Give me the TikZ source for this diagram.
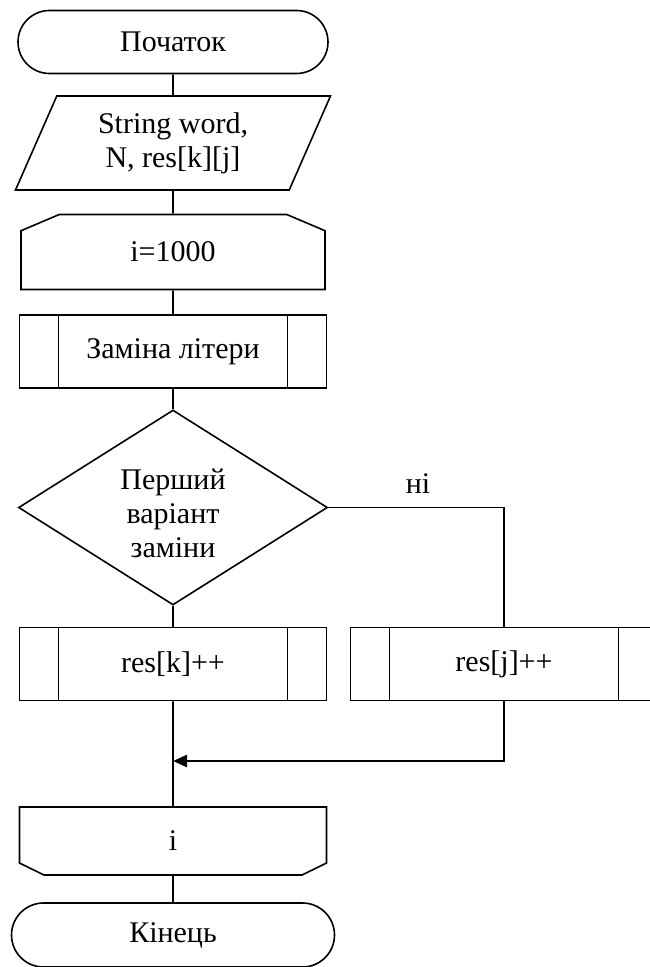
\documentclass[tikz,border=0pt]{standalone}
\usepackage{fontspec}
\setmainfont{Liberation Serif}
\usetikzlibrary{positioning, shapes.geometric, shapes.misc, arrows.meta}

\begin{document}
\begin{tikzpicture}[x=0.5pt, y=-0.5pt, font=\fontsize{15}{17}\selectfont,
      inner sep=0pt, line width=0.8pt,
      term/.style={rounded rectangle, draw, minimum width=155pt, minimum height=31.5pt},
      io/.style={trapezium, draw, trapezium left angle=56, trapezium right angle=124,
        trapezium stretches body, minimum width=157.5pt, minimum height=47pt, align=center},
      loopbeg/.style={chamfered rectangle, draw, chamfered rectangle corners={north west, north east},
        chamfered rectangle angle=67, chamfered rectangle xsep=15.5pt,
        minimum width=152pt, minimum height=37.5pt},
      loopfin/.style={chamfered rectangle, draw, chamfered rectangle corners={south west, south east},
        chamfered rectangle angle=64, chamfered rectangle xsep=13.5pt,
        minimum width=153.5pt, minimum height=34pt},
      proc/.style={rectangle, draw, minimum width=153.5pt, minimum height=36.5pt,
        path picture={\draw ([xshift=19.5pt]path picture bounding box.north west)
          -- ([xshift=19.5pt]path picture bounding box.south west)
          ([xshift=-19.5pt]path picture bounding box.north east)
          -- ([xshift=-19.5pt]path picture bounding box.south east);}},
      cond/.style={diamond, draw, aspect=1.6, minimum width=154.5pt, minimum height=97.5pt},
      arrow/.style={-{Triangle[length=7pt,width=6pt]}, line width=1.2pt}]
      \useasboundingbox (0,0) rectangle (649,967);
      % start, input, loop
      \node[term] (start) at(173,42) {Початок};
      \node[io] (input) at(173,143) {String word,\\N, res[k][j]};
      \node[loopbeg] (loopA) at(173,252) {i=1000};
      \node[proc] (swap) at(173,351.5) {Заміна літери};
      \draw (start) -- (input);
      \draw (input) -- (loopA);
      \draw (loopA) -- (swap);
      % choice
      \node[cond] (variant) at(173,507.5)
        {\raisebox{-8pt}[0pt][0pt]{\begin{tabular}{@{}c@{}}Перший\\варіант\\заміни\end{tabular}}};
      \node[proc] (resk) at(173,664) {res[k]++};
      \node[proc] (resj) at(504,664) {res[j]++};
      \node (no) at(418,484) {ні};
      \draw (swap) -- (variant);
      \draw (variant) -- (resk);
      \draw (variant.east) -| (resj.north);
      % join, loop end, stop
      \coordinate (join) at(173,761);
      \node[loopfin] (loopB) at(173,841) {i};
      \node[term, minimum width=161.5pt, minimum height=32pt] (stop) at(173,935) {Кінець};
      \draw (resk) -- (loopB);
      \draw[arrow] (resj.south) |- (join);
      \draw (loopB) -- (stop);
  \end{tikzpicture}
\end{document}
